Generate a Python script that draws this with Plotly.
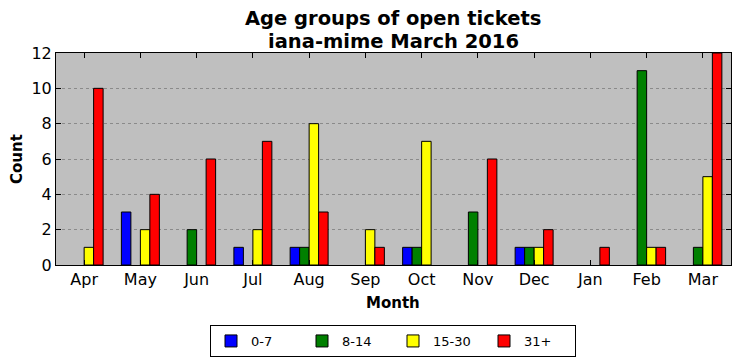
import plotly.graph_objects as go

months = ["Apr", "May", "Jun", "Jul", "Aug", "Sep", "Oct", "Nov", "Dec", "Jan", "Feb", "Mar"]
g0_7 = [0, 3, 0, 1, 1, 0, 1, 0, 1, 0, 0, 0]
g8_14 = [0, 0, 2, 0, 1, 0, 1, 3, 1, 0, 11, 1]
g15_30 = [1, 2, 0, 2, 8, 2, 7, 0, 1, 0, 1, 5]
g31p = [10, 4, 6, 7, 3, 1, 0, 6, 2, 1, 1, 12]

series = [("0-7", g0_7, "#0000ff"), ("8-14", g8_14, "#008000"),
          ("15-30", g15_30, "#ffff00"), ("31+", g31p, "#ff0000")]

W, H = 740, 361
fig = go.Figure()
for name, vals, col in series:
    fig.add_trace(go.Bar(x=list(range(len(months))), y=[v if v else None for v in vals], name=name,
                         marker=dict(color=col, line=dict(color="black", width=1))))

font = "DejaVu Sans"
fig.update_layout(
    width=W, height=H,
    barmode="group", bargap=0.325, bargroupgap=0,
    paper_bgcolor="white", plot_bgcolor="#bfbfbf",
    margin=dict(l=56, r=9, t=53, b=96, autoexpand=False),
    font=dict(family=font, size=16, color="black"),
    showlegend=True,
    legend=dict(orientation="h", xref="container", yref="container",
                x=393 / W, xanchor="center", y=1 - 325 / H, yanchor="top",
                bordercolor="black", borderwidth=1, font=dict(size=13),
                entrywidth=46, entrywidthmode="pixels", traceorder="normal"),
    annotations=[
        dict(text="<b>Age groups of open tickets</b>", xref="paper", yref="paper",
             x=393 / W, y=1 - 19 / H, xanchor="center", yanchor="middle",
             showarrow=False, font=dict(size=19.5, family=font)),
        dict(text="<b>iana-mime March 2016</b>", xref="paper", yref="paper",
             x=393 / W, y=1 - 41 / H, xanchor="center", yanchor="middle",
             showarrow=False, font=dict(size=19.5, family=font)),
        dict(text="<b>Month</b>", xref="paper", yref="paper",
             x=393 / W, y=1 - 303 / H, xanchor="center", yanchor="middle",
             showarrow=False, font=dict(size=15, family=font)),
        dict(text="<b>Count</b>", xref="paper", yref="paper", textangle=-90,
             x=17 / W, y=1 - 159 / H, xanchor="center", yanchor="middle",
             showarrow=False, font=dict(size=15, family=font)),
    ],
)
# convert annotation coords (given relative to full canvas) into plot-area paper coords
l, r, t, b = 56, 9, 53, 96
pw, ph = W - l - r, H - t - b
for a in fig.layout.annotations:
    px = a.x * W
    py = (1 - a.y) * H
    a.x = (px - l) / pw
    a.y = 1 - (py - t) / ph

fig.update_xaxes(
    range=[-0.5, 11.5], tickmode="array", tickvals=list(range(len(months))), ticktext=months,
    ticks="inside", ticklen=5, tickcolor="black", mirror="ticks", showline=True,
    linecolor="black", linewidth=1, showgrid=False, zeroline=False, automargin=False,
)
fig.update_yaxes(
    range=[0, 12], tickvals=[0, 2, 4, 6, 8, 10, 12],
    ticks="inside", ticklen=5, tickcolor="black", mirror="ticks", showline=True,
    linecolor="black", linewidth=1, showgrid=True, gridcolor="#8a8a8a", griddash="dot",
    gridwidth=1, zeroline=False, automargin=False,
)
fig.write_html("out.html", config={"displayModeBar": False})

with open("out.html", "r", encoding="utf-8") as f:
    html = f.read()
html = html.replace("<body>", '<body style="margin:0;padding:0;overflow:hidden">', 1)
with open("out.html", "w", encoding="utf-8") as f:
    f.write(html)
